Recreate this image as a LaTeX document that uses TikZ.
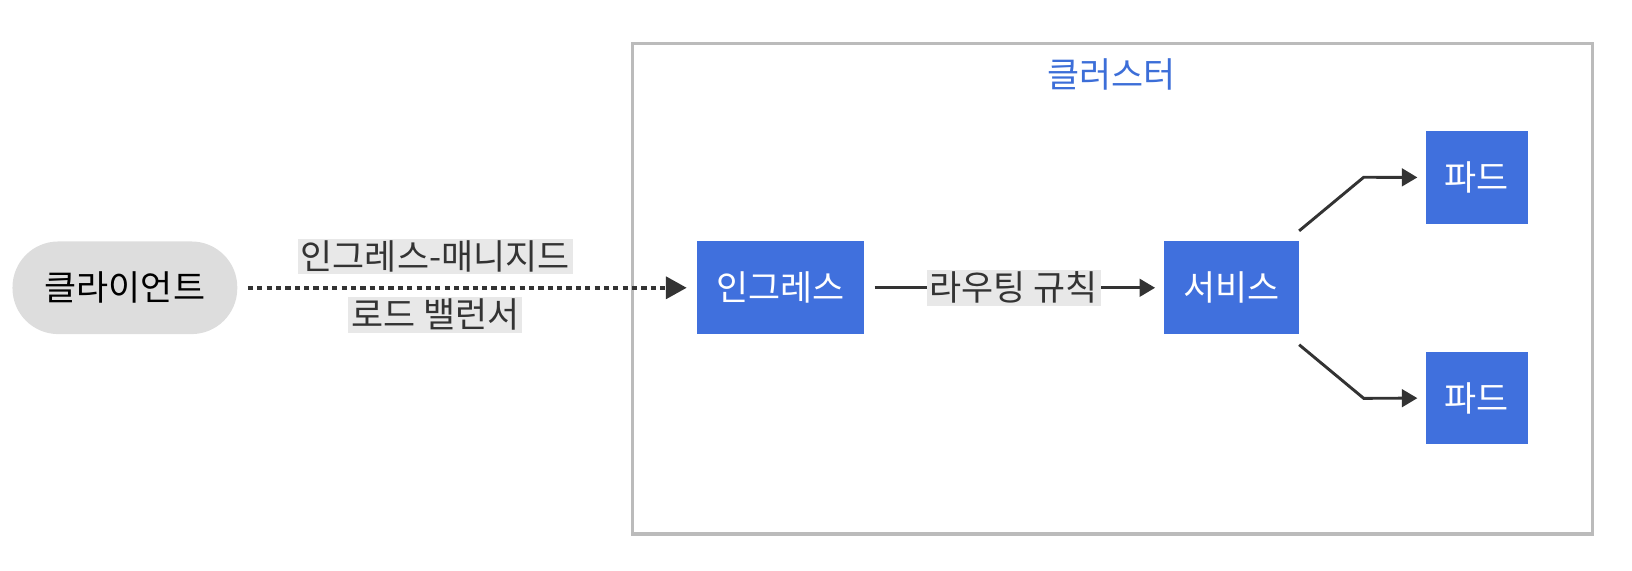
\documentclass[tikz,border=0pt]{standalone}
\usepackage{fontspec}
\setmainfont{Noto Sans CJK KR}
\usetikzlibrary{arrows.meta}
\definecolor{boxblue}{RGB}{64,112,221}
\definecolor{titleblue}{RGB}{60,110,216}
\definecolor{clientgray}{RGB}{221,221,221}
\definecolor{labelbg}{RGB}{232,232,232}
\definecolor{linegray}{RGB}{51,51,51}
\definecolor{framegray}{RGB}{187,187,187}
\tikzset{
  txt/.style={font=\fontsize{33.5}{38}\selectfont},
  bluebox/.style={txt, fill=boxblue, draw=none, text=white, minimum height=89pt, inner sep=0pt},
  conn/.style={draw=linegray, line width=2.8pt, -{Triangle[length=15pt,width=17pt]}},
  dotconn/.style={draw=linegray, line width=3.8pt, dash pattern=on 5pt off 4pt, -{Triangle[length=20pt,width=21pt]}},
  lbl/.style={txt, fill=labelbg, text=linegray, inner xsep=3pt, inner ysep=2pt},
}
\begin{document}
\begin{tikzpicture}[x=1pt,y=-1pt]
\useasboundingbox (0,0) rectangle (1568,548);
% cluster frame
\node[draw=framegray, line width=3pt, minimum width=922pt, minimum height=471pt, inner sep=0pt] (cluster) at (1069,277.5) {};
\node[txt, text=titleblue] (ctitle) at (1068,72) {클러스터};
% nodes
\node[txt, fill=clientgray, rounded corners=44pt, minimum width=216pt, minimum height=89pt, inner sep=0pt] (client) at (120,276.5) {클라이언트};
\node[bluebox, minimum width=160pt] (ing) at (750,276.5) {인그레스};
\node[bluebox, minimum width=130pt] (svc) at (1183,276.5) {서비스};
\node[bluebox, minimum width=98pt] (pod1) at (1419,170.5) {파드};
\node[bluebox, minimum width=98pt] (pod2) at (1419,382.5) {파드};
% connectors
\draw[dotconn, shorten <=10pt, shorten >=10pt] (client) -- (ing)
  node[lbl, pos=0.43, above=11pt] (l1) {인그레스-매니지드}
  node[lbl, pos=0.43, below=7pt] (l2) {로드 밸런서};
\draw[conn, shorten <=10pt, shorten >=8pt] (ing) -- (svc)
  node[lbl, midway] (l3) {라우팅 규칙};
\draw[conn, shorten >=8pt] ([yshift=10pt]svc.north east) -- ++(62,-51.5) -- (pod1.west);
\draw[conn, shorten >=8pt] ([yshift=-10pt]svc.south east) -- ++(62,51.5) -- (pod2.west);
\end{tikzpicture}
\end{document}
